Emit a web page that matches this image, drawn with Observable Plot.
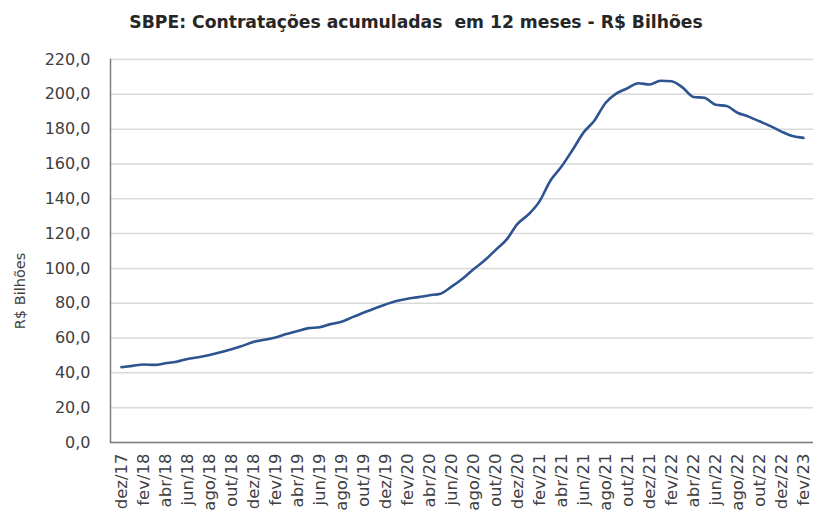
<!DOCTYPE html>
<html><head><meta charset="utf-8">
<script src="https://cdn.jsdelivr.net/npm/d3@7"></script>
<script src="https://cdn.jsdelivr.net/npm/@observablehq/plot@0.6"></script>
<style>
body{margin:0;background:#fff;font-family:"DejaVu Sans",sans-serif;}
#title{height:40px;line-height:45px;text-align:center;font-weight:bold;font-size:17.2px;color:#262626;padding-left:17px;box-sizing:border-box;width:815px;white-space:pre;}
</style></head><body>
<div id="title">SBPE: Contratações acumuladas  em 12 meses - R$ Bilhões</div>
<div id="chart"></div>
<script>
const months = [
 "dez/17",
 "jan/18","fev/18","mar/18","abr/18","mai/18","jun/18","jul/18","ago/18","set/18","out/18","nov/18","dez/18",
 "jan/19","fev/19","mar/19","abr/19","mai/19","jun/19","jul/19","ago/19","set/19","out/19","nov/19","dez/19",
 "jan/20","fev/20","mar/20","abr/20","mai/20","jun/20","jul/20","ago/20","set/20","out/20","nov/20","dez/20",
 "jan/21","fev/21","mar/21","abr/21","mai/21","jun/21","jul/21","ago/21","set/21","out/21","nov/21","dez/21",
 "jan/22","fev/22","mar/22","abr/22","mai/22","jun/22","jul/22","ago/22","set/22","out/22","nov/22","dez/22",
 "jan/23","fev/23"
];
const values = [
 43.3,
 44.0,44.8,44.6,45.5,46.4,48.0,49.0,50.3,51.8,53.6,55.5,57.8,
 59.0,60.3,62.3,64.0,65.7,66.2,68.0,69.3,72.0,74.5,77.0,79.3,
 81.3,82.6,83.5,84.6,85.5,89.5,94.0,99.5,104.5,110.5,116.5,125.6,
 131.0,138.5,150.5,158.5,168.0,178.0,185.0,195.0,200.5,203.5,206.4,205.6,
 207.8,207.5,204.0,198.5,198.0,194.0,193.3,189.4,187.2,184.5,181.7,178.6,
 176.0,175.0
];
const yTicks = [0,20,40,60,80,100,120,140,160,180,200,220];
const xTickLabels = months.filter((d,i)=>i%2===0);
const yLabel = "R$ Bilhões";
const data = months.map((m,i)=>({month:m, value:values[i]}));

const chart = Plot.plot({
  width:815, height:476,
  marginTop:19, marginBottom:74, marginLeft:110, marginRight:2,
  style:{fontFamily:'"DejaVu Sans", sans-serif', fontSize:"15px", color:"#404040", background:"#fff", overflow:"visible"},
  x:{type:"point", domain:months, padding:0.5, label:null},
  y:{domain:[0,220], label:null},
  marks:[
    Plot.gridY(yTicks, {stroke:"#d9d9d9", strokeOpacity:1, strokeWidth:1.5}),
    Plot.axisY(yTicks, {tickSize:0, tickPadding:20, tickFormat:d=>d.toFixed(1).replace(".",","), fontSize:16, label:null}),
    Plot.axisX(xTickLabels, {tickSize:0, tickRotate:-90, textAnchor:"end", tickPadding:11, fontSize:16.5, label:null}),
    Plot.ruleY([0], {stroke:"#7f7f7f", strokeWidth:1.5}),
    Plot.frame({anchor:"left", stroke:"#7f7f7f", strokeWidth:1.5}),
    Plot.lineY(data, {x:"month", y:"value", stroke:"#2D5490", strokeWidth:2.6, curve:"monotone-x"}),
    Plot.text([yLabel], {frameAnchor:"left", textAnchor:"middle", dx:-90, dy:40, rotate:-90, fontSize:14.5, fill:"#404040"})
  ]
});
document.getElementById("chart").appendChild(chart);
</script>
</body></html>
